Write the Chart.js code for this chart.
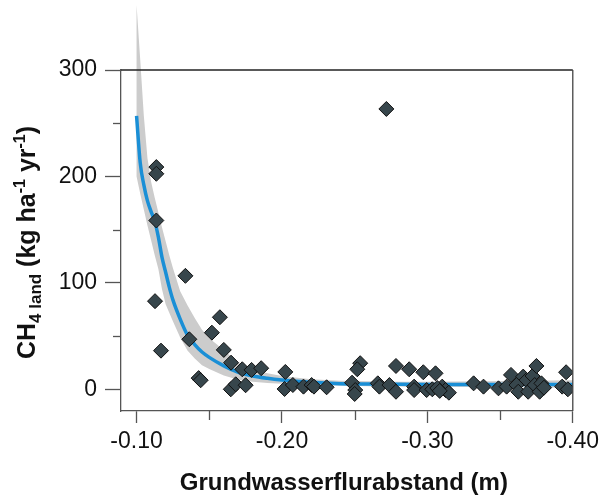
<!DOCTYPE html>
<html>
<head>
<meta charset="utf-8">
<script src="https://cdn.jsdelivr.net/npm/chart.js@4.4.1/dist/chart.umd.min.js"></script>
<style>
  html, body { margin: 0; padding: 0; background: #fff; }
  #wrap { width: 604px; height: 499px; position: relative; }
</style>
</head>
<body>
<div id="wrap"><canvas id="myChart"></canvas></div>
<script>
// measured points: groundwater depth (m) vs CH4 land
const depth = [
  -0.1136, -0.1136, -0.1136, -0.1336, -0.1127, -0.1573, -0.1518, -0.1363, -0.1168, -0.1600,
  -0.1427, -0.1441, -0.1650, -0.1727, -0.1791, -0.1857, -0.1648, -0.1682, -0.1750, -0.2023,
  -0.2018, -0.2075, -0.2148, -0.2204, -0.2220, -0.2307, -0.2482, -0.2538, -0.2518, -0.2504,
  -0.2500, -0.2659, -0.2670, -0.2739, -0.2784, -0.2784, -0.2875, -0.2972, -0.3056, -0.2909,
  -0.2909, -0.2995, -0.3034, -0.3102, -0.3125, -0.3148, -0.3068, -0.3085, -0.3318, -0.3386,
  -0.3489, -0.3545, -0.3575, -0.3613, -0.3625, -0.3659, -0.3682, -0.3693, -0.3723, -0.3750,
  -0.3738, -0.3772, -0.3784, -0.3802, -0.3954, -0.3927, -0.3966, -0.2718
];
const ch4 = [
  208.8, 202.5, 158.6, 106.6, 82.8, 67.7, 53.2, 47.0, 36.3, 37.0,
  10.5, 8.5, 25.0, 18.8, 18.2, 19.8, 0.0, 4.7, 3.8, 16.3,
  0.3, 4.0, 2.5, 4.0, 2.5, 1.9, 6.2, 24.5, 18.8, -0.7,
  -4.4, 5.6, 2.5, 4.0, -2.3, 21.9, 18.8, 16.0, 15.0, 2.5,
  -0.7, -0.7, 0.0, 2.5, -0.7, -3.2, 1.2, -1.5, 5.6, 2.5,
  0.9, 2.5, 13.5, 4.0, -2.3, 11.9, 8.7, -2.3, 12.5, 21.9,
  4.0, -2.3, 5.6, 1.5, 16.0, 2.5, 0.0, 263.4
];

// fitted curve and confidence band
const fitX = [
  -0.100, -0.1025, -0.105, -0.1075, -0.110, -0.1125, -0.115, -0.1175, -0.120, -0.1225,
  -0.125, -0.130, -0.135, -0.140, -0.145, -0.150, -0.160, -0.170, -0.180, -0.190,
  -0.200, -0.220, -0.240, -0.260, -0.280, -0.300, -0.340, -0.400
];
const fitY = [
  257, 213, 192, 177, 167, 158, 143, 124, 110, 96,
  84, 66, 51, 42, 35, 30, 22, 16, 12.5, 10.3,
  8.7, 6.5, 5.3, 4.9, 4.7, 4.6, 4.5, 4.5
];
const bandUpper = [
  361, 310, 257, 217, 195, 180, 166, 152, 139, 126,
  114, 92, 79, 67, 56, 48, 37, 25, 19, 15,
  12.5, 9.5, 8, 7.5, 7.2, 7.2, 7.5, 8.5
];
const bandLower = [
  200, 184, 169, 154, 140, 126, 113, 94, 80, 72,
  64, 48.7, 36.5, 29, 22.5, 19, 13, 9, 7, 6,
  5.2, 4, 3.3, 2.9, 2.7, 2.5, 2.2, 1.5
];

const xTicks = [-0.10, -0.15, -0.20, -0.25, -0.30, -0.35, -0.40];
const xMajor = [-0.10, -0.20, -0.30, -0.40];
const yTicks = [0, 50, 100, 150, 200, 250, 300];
const yMajor = [0, 100, 200, 300];

const xTitle = "Grundwasserflurabstand (m)";
const yTitleParts = [
  { t: "CH", k: "main" },
  { t: "4 land", k: "sub" },
  { t: " (kg ha", k: "main" },
  { t: "-1", k: "sup" },
  { t: " yr", k: "main" },
  { t: "-1", k: "sup" },
  { t: ")", k: "main" }
];

const FONT = "'Liberation Sans', Arial, sans-serif";
const axisColor = "#555";

const bandPlugin = {
  id: "band",
  beforeDatasetsDraw(chart) {
    const ctx = chart.ctx;
    const xs = chart.scales.x, ys = chart.scales.y;
    ctx.save();
    ctx.beginPath();
    fitX.forEach((x, i) => {
      const px = xs.getPixelForValue(x), py = ys.getPixelForValue(bandUpper[i]);
      if (i === 0) ctx.moveTo(px, py); else ctx.lineTo(px, py);
    });
    for (let i = fitX.length - 1; i >= 0; i--) {
      ctx.lineTo(xs.getPixelForValue(fitX[i]), ys.getPixelForValue(bandLower[i]));
    }
    ctx.closePath();
    ctx.fillStyle = "#cccccc";
    ctx.fill();
    ctx.restore();
  }
};

const framePlugin = {
  id: "frame",
  afterDraw(chart) {
    const ctx = chart.ctx;
    const { left, right, top, bottom } = chart.chartArea;
    const xs = chart.scales.x, ys = chart.scales.y;
    ctx.save();
    ctx.lineWidth = 1.3;
    ctx.strokeStyle = "#222";
    ctx.beginPath();
    ctx.moveTo(left, top);
    ctx.lineTo(right, top);
    ctx.stroke();
    ctx.strokeStyle = "#444";
    ctx.beginPath();
    ctx.moveTo(right, top);
    ctx.lineTo(right, bottom);
    ctx.stroke();

    // minor ticks
    ctx.strokeStyle = axisColor;
    xTicks.filter(v => !xMajor.includes(v)).forEach(v => {
      const px = Math.round(xs.getPixelForValue(v)) + 0.5;
      ctx.beginPath();
      ctx.moveTo(px, bottom);
      ctx.lineTo(px, bottom + 9);
      ctx.stroke();
    });
    yTicks.filter(v => !yMajor.includes(v)).forEach(v => {
      const py = Math.round(ys.getPixelForValue(v)) + 0.5;
      ctx.beginPath();
      ctx.moveTo(left - 8, py);
      ctx.lineTo(left, py);
      ctx.stroke();
    });

    // axis titles
    ctx.fillStyle = "#111";
    ctx.font = "bold 24px " + FONT;
    ctx.textAlign = "center";
    ctx.textBaseline = "alphabetic";
    ctx.fillText(xTitle, (left + right) / 2 - 3, 490);

    const sizes = { main: 25, sub: 17, sup: 16 };
    const shift = { main: 0, sub: 6, sup: -10 };
    ctx.translate(35, (top + bottom) / 2 + 2);
    ctx.rotate(-Math.PI / 2);
    ctx.textAlign = "left";
    let total = 0;
    yTitleParts.forEach(p => {
      ctx.font = "bold " + sizes[p.k] + "px " + FONT;
      total += ctx.measureText(p.t).width;
    });
    let cx = -total / 2;
    yTitleParts.forEach(p => {
      ctx.font = "bold " + sizes[p.k] + "px " + FONT;
      ctx.fillText(p.t, cx, shift[p.k]);
      cx += ctx.measureText(p.t).width;
    });
    ctx.restore();
  }
};

new Chart(document.getElementById("myChart"), {
  data: {
    datasets: [
      {
        type: "scatter",
        data: depth.map((x, i) => ({ x: x, y: ch4[i] })),
        pointStyle: "rectRot",
        pointRadius: 7.5,
        backgroundColor: "#37464c",
        borderColor: "#111",
        borderWidth: 1,
        order: 0
      },
      {
        type: "line",
        data: fitX.map((x, i) => ({ x: x, y: fitY[i] })),
        borderColor: "#1a8fd6",
        borderWidth: 3.5,
        pointRadius: 0,
        cubicInterpolationMode: "monotone",
        fill: false,
        order: 1
      }
    ]
  },
  options: {
    responsive: true,
    maintainAspectRatio: false,
    animation: false,
    layout: { padding: { top: 70, right: 27, left: 0, bottom: 0 } },
    plugins: { legend: { display: false }, tooltip: { enabled: false } },
    scales: {
      x: {
        type: "linear",
        reverse: true,
        min: -0.40,
        max: -0.0893,
        afterBuildTicks: s => { s.ticks = xTicks.map(v => ({ value: v })); },
        afterFit: s => { s.height = 88; },
        ticks: {
          autoSkip: false,
          maxRotation: 0,
          padding: 5,
          color: "#111",
          font: { family: FONT, size: 23 },
          callback: v => xMajor.some(m => Math.abs(m - v) < 1e-9) ? v.toFixed(2) : ""
        },
        grid: {
          drawOnChartArea: false,
          tickLength: 12,
          tickWidth: 1.3,
          tickColor: c => (c.tick && xMajor.some(m => Math.abs(m - c.tick.value) < 1e-9)) ? axisColor : "rgba(0,0,0,0)"
        },
        border: { color: axisColor, width: 1.3 }
      },
      y: {
        type: "linear",
        min: -20.4,
        max: 300,
        afterBuildTicks: s => { s.ticks = yTicks.map(v => ({ value: v })); },
        afterFit: s => { s.width = 121; },
        ticks: {
          padding: 8,
          color: "#111",
          font: { family: FONT, size: 23 },
          callback: v => yMajor.includes(v) ? String(v) : ""
        },
        grid: {
          drawOnChartArea: false,
          tickLength: 16,
          tickWidth: 1.3,
          tickColor: c => (c.tick && yMajor.includes(c.tick.value)) ? axisColor : "rgba(0,0,0,0)"
        },
        border: { color: axisColor, width: 1.3 }
      }
    }
  },
  plugins: [bandPlugin, framePlugin]
});
</script>
</body>
</html>
